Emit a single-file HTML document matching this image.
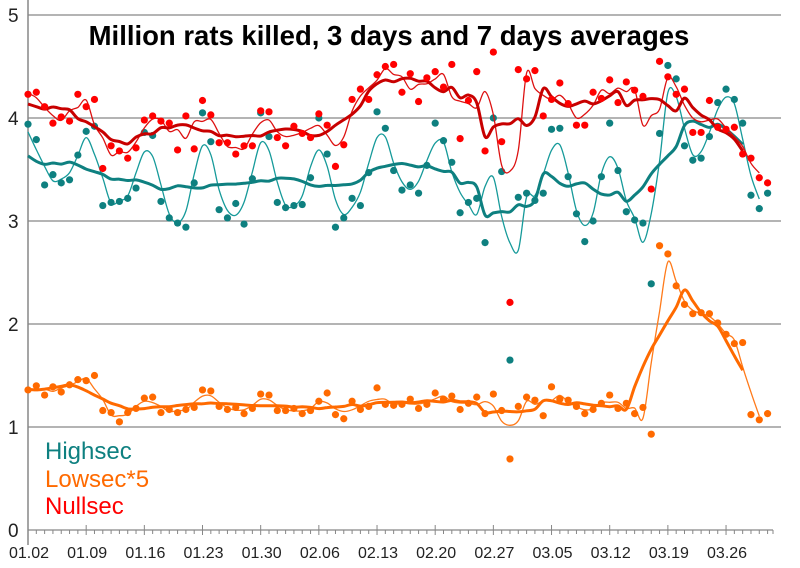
<!DOCTYPE html>
<html><head><meta charset="utf-8"><style>
body{margin:0;background:#fff;}
svg{display:block;font-family:"Liberation Sans",sans-serif;}
</style></head><body>
<svg id="chart" width="800" height="568" viewBox="0 0 800 568" xmlns="http://www.w3.org/2000/svg">
<g id="grid"></g>
<g id="axes"></g>
<g id="series"></g>
<text x="389" y="45" text-anchor="middle" font-size="27.5" font-weight="bold" fill="#000">Million rats killed, 3 days and 7 days averages</text>
<text x="45" y="459" font-size="24" fill="#0e8080">Highsec</text>
<text x="45" y="487" font-size="24" fill="#ff6a00">Lowsec*5</text>
<text x="45" y="514" font-size="24" fill="#ff0000">Nullsec</text>
</svg>
<script>
const xLabels=["01.02","01.09","01.16","01.23","01.30","02.06","02.13","02.20","02.27","03.05","03.12","03.19","03.26"];
const yTicks=[0,1,2,3,4,5];
const highsec=[3.94,3.79,3.35,3.45,3.37,3.40,3.64,3.87,3.92,3.15,3.18,3.19,3.22,3.32,3.86,3.83,3.19,3.03,2.98,2.94,3.37,4.05,3.77,3.11,3.03,3.17,2.97,3.41,4.05,3.82,
3.18,3.13,3.15,3.16,3.42,4.00,3.65,2.94,3.03,3.22,3.15,3.47,4.06,3.90,3.49,3.30,3.35,3.27,3.54,3.95,3.78,3.57,3.08,3.18,3.22,2.79,4.00,3.48,1.65,3.23,
3.27,3.20,3.27,3.89,3.90,3.43,3.07,2.80,3.00,3.43,3.95,3.49,3.09,3.01,2.98,2.39,3.85,4.51,4.38,3.73,3.59,3.61,3.82,4.15,4.28,4.18,3.95,3.25,3.12,3.27];
const lowsec=[1.36,1.40,1.31,1.39,1.34,1.41,1.46,1.45,1.50,1.16,1.14,1.05,1.14,1.18,1.28,1.29,1.14,1.17,1.14,1.17,1.19,1.36,1.35,1.20,1.17,1.19,1.13,1.18,1.32,1.31,
1.16,1.16,1.18,1.13,1.16,1.25,1.33,1.12,1.08,1.25,1.17,1.20,1.38,1.22,1.21,1.22,1.27,1.18,1.22,1.33,1.27,1.30,1.17,1.23,1.29,1.13,1.32,1.16,0.69,1.20,
1.29,1.26,1.11,1.39,1.27,1.26,1.20,1.13,1.17,1.23,1.31,1.18,1.23,1.13,1.19,0.93,2.76,2.68,2.37,2.19,2.10,2.11,2.10,2.01,1.90,1.81,1.82,1.12,1.07,1.13];
const nullsec=[4.23,4.25,4.11,3.95,4.01,3.97,4.23,4.11,4.18,3.51,3.73,3.68,3.61,3.71,3.98,4.02,3.97,3.95,3.69,4.02,3.70,4.17,4.03,3.76,3.76,3.65,3.73,3.73,4.07,4.06,
3.81,3.73,3.92,3.85,3.81,4.04,3.93,3.53,3.74,4.18,4.28,4.18,4.42,4.50,4.52,4.25,4.43,4.16,4.39,4.45,4.30,4.52,3.80,4.17,4.45,3.68,4.64,3.77,2.21,4.47,
4.38,4.46,4.02,4.18,4.34,4.14,3.93,3.93,4.25,4.19,4.37,4.15,4.35,4.27,4.21,3.31,4.55,4.40,4.23,4.28,3.86,3.86,4.17,3.91,3.89,3.91,3.65,3.61,3.42,3.37];

const NS="http://www.w3.org/2000/svg";
const X0=28, DX=8.31, Y0=530, DY=103;
function xs(i){return X0+DX*i;}
function ys(v){return Y0-DY*v;}
function mk(tag,attrs,parent){const e=document.createElementNS(NS,tag);for(const k in attrs)e.setAttribute(k,attrs[k]);parent.appendChild(e);return e;}
const grid=document.getElementById('grid'),axes=document.getElementById('axes'),ser=document.getElementById('series');

yTicks.forEach(t=>{
  if(t>0){const l=mk('line',{x1:X0,x2:781,y1:ys(t),y2:ys(t),stroke:'#878787','stroke-width':1.3},grid);
  
  }
  const tx=mk('text',{x:8,y:ys(t)+7,'font-size':19,fill:'#222'},axes);tx.textContent=t;
  
  
});
let ya=mk('line',{x1:X0,x2:X0,y1:0,y2:545,stroke:'#878787','stroke-width':1.5},axes);


let xa=mk('line',{x1:X0,x2:773,y1:Y0,y2:Y0,stroke:'#878787','stroke-width':1.3},axes);


for(let i=0;i<=89;i++){
  const major=i%7===0;
  mk('line',{x1:xs(i),x2:xs(i),y1:major?Y0-5:Y0,y2:Y0+(major?5:4),stroke:'#878787','stroke-width':1},axes);
}
mk('line',{x1:773,x2:773,y1:Y0,y2:Y0+4,stroke:'#878787','stroke-width':1},axes);
xLabels.forEach((lab,j)=>{
  const t=mk('text',{x:xs(j*7)+1,y:558,'font-size':16,'text-anchor':'middle',fill:'#222'},axes);t.textContent=lab;
  
  
});

function avg(arr,w){const h=(w-1)/2,out=[];for(let i=0;i<arr.length;i++){let s=0,n=0;for(let j=i-h;j<=i+h;j++){if(j>=0&&j<arr.length){s+=arr[j];n++;}}out.push(s/n);}return out;}
function smooth(pts){let d='M'+pts[0][0]+','+pts[0][1];for(let i=0;i<pts.length-1;i++){const p0=pts[i-1]||pts[i],p1=pts[i],p2=pts[i+1],p3=pts[i+2]||p2;
 const c1x=p1[0]+(p2[0]-p0[0])/6,c1y=p1[1]+(p2[1]-p0[1])/6,c2x=p2[0]-(p3[0]-p1[0])/6,c2y=p2[1]-(p3[1]-p1[1])/6;
 d+=' C'+c1x.toFixed(1)+','+c1y.toFixed(1)+' '+c2x.toFixed(1)+','+c2y.toFixed(1)+' '+p2[0].toFixed(1)+','+p2[1].toFixed(1);}return d;}
function drawSeries(name,data,dotColor,lineColor,thickColor){
  const g=mk('g',{},ser);
  
  
  const a3=avg(data,3).slice(0,data.length-1),a7=avg(data,7).slice(0,data.length-3);
  const p3=mk('path',{d:smooth(a3.map((v,i)=>[xs(i),ys(v)])),fill:'none',stroke:lineColor,'stroke-width':1.3},g);
  
  
  const p7=mk('path',{d:smooth(a7.map((v,i)=>[xs(i),ys(v)])),fill:'none',stroke:thickColor,'stroke-width':3},g);
  
  
  data.forEach((v,i)=>{const c=mk('circle',{cx:xs(i),cy:ys(v),r:3.6,fill:dotColor},g);
    
    });
}
drawSeries('highsec',highsec,'#0e8080','#169a9a','#0e8080');
drawSeries('lowsec',lowsec,'#ff6a00','#ff7a1a','#ff6a00');
drawSeries('nullsec',nullsec,'#ff0000','#dd1111','#c80000');
</script>
</body></html>
